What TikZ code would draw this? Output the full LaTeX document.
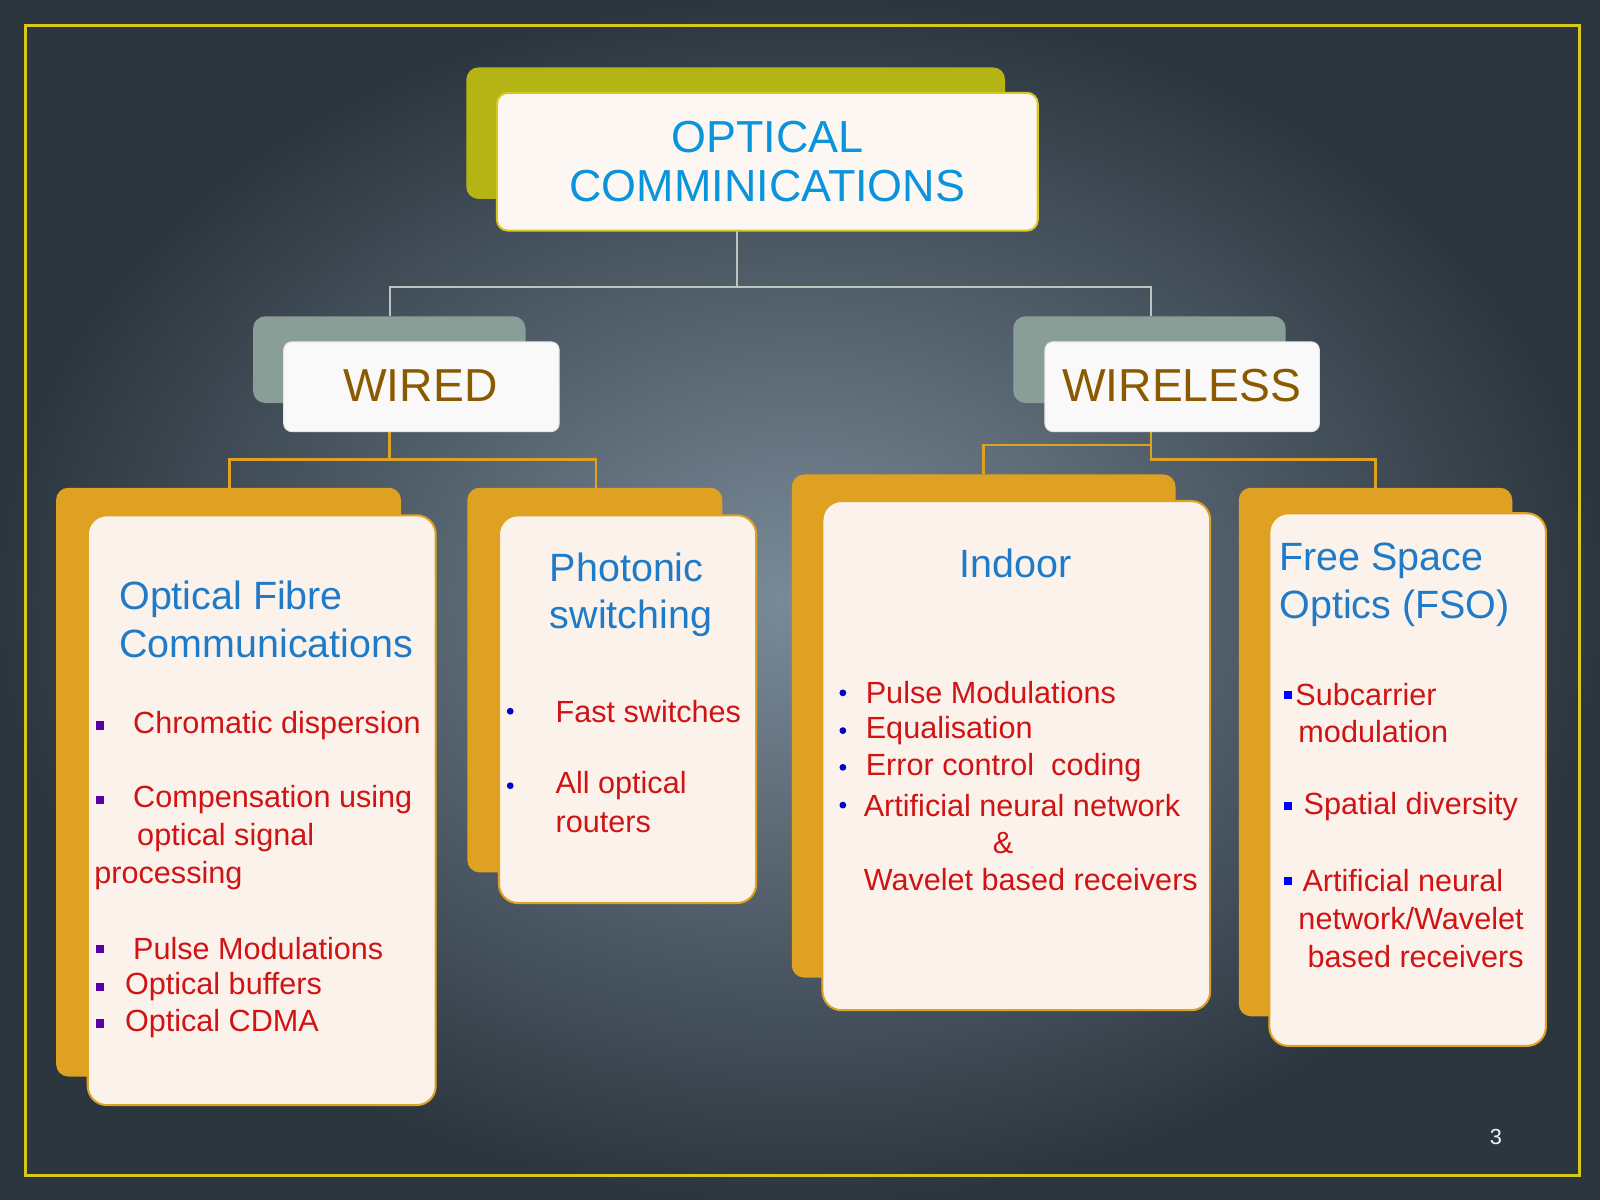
\documentclass[tikz,border=0pt]{standalone}
\usepackage{fontspec}
\setmainfont{Liberation Sans}
\definecolor{bgin}{HTML}{7A8B98}
\definecolor{bgout}{HTML}{2C363F}
\definecolor{frame}{HTML}{D8C81E}
\definecolor{olive}{HTML}{B4B414}
\definecolor{sage}{HTML}{8A9E98}
\definecolor{amber}{HTML}{DFA122}
\definecolor{cream}{HTML}{FCF2EC}
\definecolor{title}{HTML}{1F7AC8}
\definecolor{item}{HTML}{D01414}
\definecolor{brown}{HTML}{8B5A00}
\tikzset{every picture/.style={line width=0.75pt}}
\tikzset{
  backbox/.style={rounded corners=9pt},
  frontbox/.style={fill=cream, draw=amber, line width=1.5pt, rounded corners=14pt},
  head/.style={font=\fontsize{29}{35}\selectfont, text=title, align=left, anchor=west},
  txt/.style={font=\fontsize{22.5}{26}\selectfont, text=item, anchor=west, inner sep=0pt},
  sq/.style={fill=#1, minimum size=6pt, inner sep=0pt},
  dot/.style={circle, fill=#1, minimum size=5pt, inner sep=0pt},
}

\begin{document}
\begin{tikzpicture}[x=0.75pt,y=0.75pt,yscale=-1,xscale=1]
	\useasboundingbox (0,0) rectangle (1568,1176);
	%background
	\shade[inner color=bgin, outer color=bgout] (0,0) rectangle (1568,1176);
	\draw[frame, line width=2.5pt] (25,25) rectangle (1548,1152);

	%connectors
	\coordinate (topS) at (722,226);
	\coordinate (wiredN) at (382,310);
	\coordinate (wirelessN) at (1128,310);
	\draw[sage!60!white, line width=1.2pt] (topS) -- (722,281) -| (wiredN);
	\draw[sage!60!white, line width=1.2pt] (722,281) -| (wirelessN);
	\coordinate (wiredS) at (382,423);
	\coordinate (wirelessS) at (1128,423);
	\coordinate (fibreN) at (225,478);
	\coordinate (photN) at (584,478);
	\coordinate (indoorN) at (964,465);
	\coordinate (fsoN) at (1348,478);
	\draw[amber, line width=2pt] (wiredS) -- (382,450) -| (fibreN);
	\draw[amber, line width=2pt] (382,450) -| (photN);
	\draw[amber, line width=2pt] (wirelessS) -- (1128,436) -| (indoorN);
	\draw[amber, line width=2pt] (1128,436) -- (1128,450) -| (fsoN);

	%Top box
	\fill[olive, backbox] (457,66) rectangle (985,195);
	\draw[fill=cream!60!white, draw=frame, line width=1.5pt, rounded corners=8pt] (487,91) rectangle (1017,226);
	\node[font=\fontsize{33}{36}\selectfont, text=cyan!80!blue, align=center] (optical) at (752,158) {OPTICAL\\COMMINICATIONS};

	%Second level
	\fill[sage, backbox] (248,310) rectangle (515,395);
	\draw[fill=white!95!gray, draw=white!80!gray, rounded corners=6pt] (278,335) rectangle (548,423);
	\node[font=\fontsize{34}{36}\selectfont, text=brown] (wired) at (412,378) {WIRED};
	\fill[sage, backbox] (993,310) rectangle (1260,395);
	\draw[fill=white!95!gray, draw=white!80!gray, rounded corners=6pt] (1024,335) rectangle (1293,423);
	\node[font=\fontsize{34}{36}\selectfont, text=brown] (wireless) at (1158,378) {WIRELESS};

	%Leaf boxes
	\fill[amber, backbox] (55,478) rectangle (393,1055);
	\draw[frontbox] (86,505) rectangle (427,1083);
	\fill[amber, backbox] (458,478) rectangle (708,855);
	\draw[frontbox] (489,505) rectangle (741,885);
	\fill[amber, backbox] (776,465) rectangle (1152,958);
	\draw[frontbox] (806,491) rectangle (1186,990);
	\fill[amber, backbox] (1214,478) rectangle (1482,996);
	\draw[frontbox] (1244,503) rectangle (1515,1025);

	% Optical fibre
	\node[head] (fibre) at (112,607) {Optical Fibre\\Communications};
	\node[txt] (chrom) at (130,711) {Chromatic dispersion};
	\node[txt] (comp) at (130,784) {Compensation using};
	\node[txt] (comp2) at (134,821) {optical signal};
	\node[txt] (comp3) at (92,858) {processing};
	\node[txt] (pulse) at (130,930) {Pulse Modulations};
	\node[txt] (buf) at (122,967) {Optical buffers};
	\node[txt] (cdma) at (122,1003) {Optical CDMA};
	\foreach \y in {711,784,930,967,1003}
		\node[sq=violet!70!blue] at (98,\y) {};

	% Photonic switching
	\node[head] (phot) at (534,583) {Photonic\\switching};
	\node[txt] (fast) at (544,697) {Fast switches};
	\node[txt] (allopt) at (544,770) {All optical};
	\node[txt] (rout) at (544,806) {routers};
	\foreach \y in {697,770}
		\node[dot=blue!80!black] at (500,\y) {};

	% Indoor
	\node[head, anchor=center] (indoor) at (995,552) {Indoor};
	\node[txt] (ipulse) at (848,679) {Pulse Modulations};
	\node[txt] (equal) at (848,716) {Equalisation};
	\node[txt] (err) at (848,752) {Error control\ \ coding};
	\node[txt] (ann) at (846,789) {Artificial neural network};
	\node[txt, anchor=center] (amp) at (983,826) {\&};
	\node[txt] (wave) at (846,862) {Wavelet based receivers};
	\foreach \y in {679,716,752,789}
		\node[dot=blue!80!black] at (826,\y) {};

	% FSO
	\node[head] (fso) at (1249,573) {Free Space\\Optics (FSO)};
	\node[txt] (sub) at (1269,681) {Subcarrier};
	\node[txt] (sub2) at (1272,717) {modulation};
	\node[txt] (spat) at (1277,790) {Spatial diversity};
	\node[txt] (fann) at (1276,863) {Artificial neural};
	\node[txt] (fann2) at (1272,900) {network/Wavelet};
	\node[txt] (fann3) at (1281,937) {based receivers};
	\foreach \y in {681,790,863}
		\node[sq=blue] at (1262,\y) {};

	% page number
	\node[font=\fontsize{16}{18}\selectfont, text=white!90!gray] (page) at (1466,1114) {3};
\end{tikzpicture}
\end{document}
